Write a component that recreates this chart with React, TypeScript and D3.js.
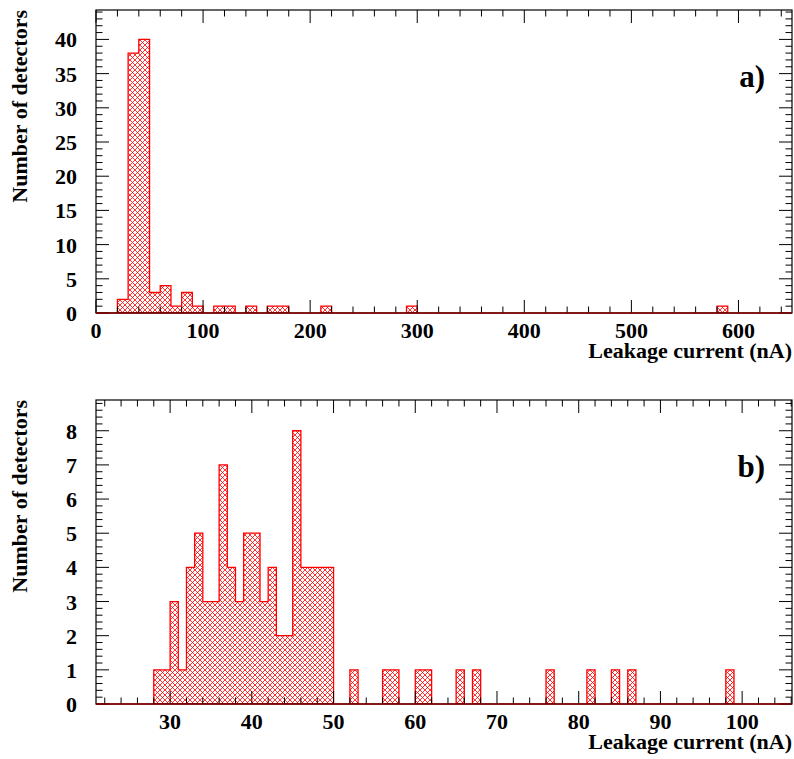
import React from "react";
import * as d3 from "d3";

// ---- Data ----
// Panel a): bins of width 10 nA (bin lower edges and counts)
const topBinStarts = [20, 30, 40, 50, 60, 70, 80, 90, 110, 120, 140, 160, 170, 210, 290, 580];
const topCounts = [2, 38, 40, 3, 4, 1, 3, 1, 1, 1, 1, 1, 1, 1, 1, 1];
const topBinWidth = 10;
const topXMajor = [0, 100, 200, 300, 400, 500, 600];
const topYMajor = [0, 5, 10, 15, 20, 25, 30, 35, 40];

// Panel b): bins of width 1 nA
const botBinStarts = [28, 29, 30, 31, 32, 33, 34, 35, 36, 37, 38, 39, 40, 41, 42, 43, 44, 45, 46, 47, 48, 49,
  52, 56, 57, 60, 61, 65, 67, 76, 81, 84, 86, 98];
const botCounts = [1, 1, 3, 1, 4, 5, 3, 3, 7, 4, 3, 5, 5, 3, 4, 2, 2, 8, 4, 4, 4, 4,
  1, 1, 1, 1, 1, 1, 1, 1, 1, 1, 1, 1];
const botBinWidth = 1;
const botXMajor = [30, 40, 50, 60, 70, 80, 90, 100];
const botYMajor = [0, 1, 2, 3, 4, 5, 6, 7, 8];

const xTitle = "Leakage current (nA)";
const yTitle = "Number of detectors";

const FONT = "'Liberation Serif', 'Times New Roman', serif";
const RED = "#ff0000";

type PanelProps = {
  id: string;
  label: string;
  x0: number; x1: number; y0: number; y1: number;
  xDomain: [number, number];
  yDomain: [number, number];
  binStarts: number[];
  counts: number[];
  binWidth: number;
  xMajor: number[];
  xMinorStep: number;
  yMajor: number[];
  yMinorStep: number;
};

function histPath(binStarts: number[], counts: number[], bw: number,
  x: d3.ScaleLinear<number, number>, y: d3.ScaleLinear<number, number>): string {
  // group into contiguous runs of nonzero bins
  const order = d3.range(binStarts.length).sort((a, b) => binStarts[a] - binStarts[b]);
  const runs: { s: number; c: number }[][] = [];
  let cur: { s: number; c: number }[] = [];
  order.forEach((i) => {
    const s = binStarts[i];
    const c = counts[i];
    if (c <= 0) return;
    if (cur.length && Math.abs(cur[cur.length - 1].s + bw - s) > 1e-9) {
      runs.push(cur);
      cur = [];
    }
    cur.push({ s, c });
  });
  if (cur.length) runs.push(cur);
  let d = "";
  runs.forEach((run) => {
    const p = d3.path();
    p.moveTo(x(run[0].s), y(0));
    run.forEach((b) => {
      p.lineTo(x(b.s), y(b.c));
      p.lineTo(x(b.s + bw), y(b.c));
    });
    p.lineTo(x(run[run.length - 1].s + bw), y(0));
    p.closePath();
    d += p.toString();
  });
  return d;
}

function Panel(props: PanelProps) {
  const { x0, x1, y0, y1, xDomain, yDomain } = props;
  const x = d3.scaleLinear().domain(xDomain).range([x0, x1]);
  const y = d3.scaleLinear().domain(yDomain).range([y1, y0]);

  const eps = 1e-6;
  const xMinor = d3.range(Math.ceil(xDomain[0] / props.xMinorStep) * props.xMinorStep, xDomain[1] + eps, props.xMinorStep)
    .filter((v) => !props.xMajor.some((m) => Math.abs(m - v) < eps));
  const yMinor = d3.range(0, yDomain[1] + eps, props.yMinorStep)
    .map((v) => Math.round(v * 1000) / 1000)
    .filter((v) => !props.yMajor.some((m) => Math.abs(m - v) < eps));

  const MAJ = 13;
  const MIN = 6.5;
  const d = histPath(props.binStarts, props.counts, props.binWidth, x, y);

  return (
    <g>
      <defs>
        <clipPath id={props.id + "-clip"}>
          <rect x={x0} y={y0} width={x1 - x0} height={y1 - y0} />
        </clipPath>
      </defs>
      <g clipPath={`url(#${props.id}-clip)`}>
        <path d={d} fill="url(#hatch)" stroke="none" />
        <path d={d} fill="none" stroke={RED} strokeWidth={1.3} strokeLinejoin="miter" />
      </g>
      {/* ticks */}
      <g stroke="#000" strokeWidth={1}>
        {props.xMajor.map((v) => (
          <g key={"xM" + v}>
            <line x1={x(v)} x2={x(v)} y1={y1} y2={y1 - MAJ} />
            <line x1={x(v)} x2={x(v)} y1={y0} y2={y0 + MAJ} />
          </g>
        ))}
        {xMinor.map((v) => (
          <g key={"xm" + v}>
            <line x1={x(v)} x2={x(v)} y1={y1} y2={y1 - MIN} />
            <line x1={x(v)} x2={x(v)} y1={y0} y2={y0 + MIN} />
          </g>
        ))}
        {props.yMajor.map((v) => (
          <g key={"yM" + v}>
            <line x1={x0} x2={x0 + MAJ} y1={y(v)} y2={y(v)} />
            <line x1={x1} x2={x1 - MAJ} y1={y(v)} y2={y(v)} />
          </g>
        ))}
        {yMinor.map((v) => (
          <g key={"ym" + v}>
            <line x1={x0} x2={x0 + MIN} y1={y(v)} y2={y(v)} />
            <line x1={x1} x2={x1 - MIN} y1={y(v)} y2={y(v)} />
          </g>
        ))}
      </g>
      {/* frame */}
      <rect x={x0} y={y0} width={x1 - x0} height={y1 - y0} fill="none" stroke="#000" strokeWidth={1.2} />
      {/* histogram baseline over x axis */}
      <line x1={x0} x2={x1} y1={y1} y2={y1} stroke="#8a0000" strokeWidth={1.6} />
      {/* tick labels */}
      <g fontFamily={FONT} fontWeight="bold" fontSize={22} fill="#000">
        {props.xMajor.map((v) => (
          <text key={"xl" + v} x={x(v)} y={y1 + 25} textAnchor="middle">{v}</text>
        ))}
        {props.yMajor.map((v) => (
          <text key={"yl" + v} x={x0 - 19} y={y(v) + 8} textAnchor="end">{v}</text>
        ))}
        <text x={x1} y={y1 + 45} textAnchor="end">{xTitle}</text>
        <text transform={`translate(27,${y0}) rotate(-90)`} textAnchor="end">{yTitle}</text>
        <text x={x1 - 27} y={y0 + 77} textAnchor="end" fontSize={31}>{props.label}</text>
      </g>
    </g>
  );
}

export default function App() {
  return (
    <svg width={794} height={759} style={{ position: "absolute", left: 0, top: 0, background: "#fff" }}>
      <defs>
        <pattern id="hatch" width={5} height={5} patternUnits="userSpaceOnUse">
          <rect width={5} height={5} fill="#fff" />
          <path d="M-1,-1L6,6M6,-1L-1,6" stroke={RED} strokeWidth={0.8} />
        </pattern>
      </defs>
      <rect width={794} height={759} fill="#fff" />
      <Panel id="a" label="a)" x0={96} x1={792} y0={10} y1={313}
        xDomain={[0, 650]} yDomain={[0, 44.3]}
        binStarts={topBinStarts} counts={topCounts} binWidth={topBinWidth}
        xMajor={topXMajor} xMinorStep={20} yMajor={topYMajor} yMinorStep={1} />
      <Panel id="b" label="b)" x0={96} x1={792} y0={400} y1={704}
        xDomain={[20.93, 106.1]} yDomain={[0, 8.9]}
        binStarts={botBinStarts} counts={botCounts} binWidth={botBinWidth}
        xMajor={botXMajor} xMinorStep={2} yMajor={botYMajor} yMinorStep={0.2} />
    </svg>
  );
}
